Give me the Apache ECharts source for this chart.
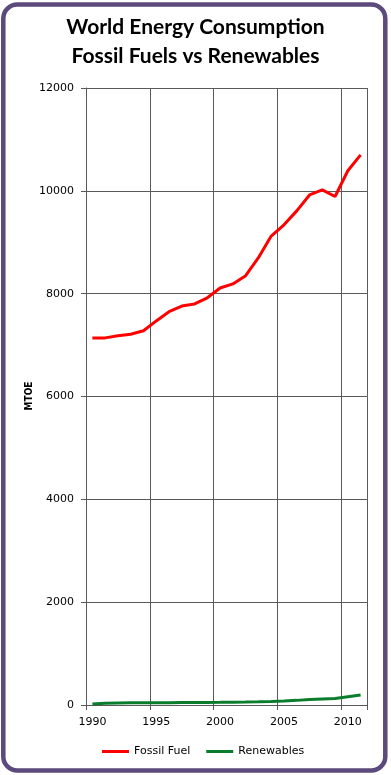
<!DOCTYPE html>
<html>
<head>
<meta charset="utf-8">
<script src="https://cdn.jsdelivr.net/npm/echarts@6/dist/echarts.min.js"></script>
<style>
html,body{margin:0;padding:0;background:#fff;}
#c{width:391px;height:775px;}
</style>
</head>
<body>
<div id="c"></div>
<script>
var years = ['1990','1991','1992','1993','1994','1995','1996','1997','1998','1999','2000','2001','2002','2003','2004','2005','2006','2007','2008','2009','2010','2011'];
var fossilFuel = [7140,7140,7180,7210,7280,7470,7650,7760,7800,7920,8110,8190,8350,8700,9120,9340,9610,9920,10020,9890,10390,10700];
var renewables = [20,35,40,42,44,45,46,47,48,50,52,55,58,62,68,78,90,105,115,125,160,195];
var yTicks = {min:0, max:12000, interval:2000};
var titleText = 'World Energy Consumption\nFossil Fuels vs Renewables';
var yName = 'MTOE';

var chart = echarts.init(document.getElementById('c'), null, {renderer:'canvas'});
var gridColor = '#595959';
chart.setOption({
  animation:false,
  backgroundColor:'#fff',
  title:{
    text:titleText,
    left:'center', top:8,
    textStyle:{fontFamily:'Lato', fontWeight:'bold', fontSize:21, lineHeight:29, color:'#000'}
  },
  graphic:[{
    type:'rect', silent:true, z:100,
    shape:{x:3.3, y:4.5, width:382, height:766, r:14},
    style:{fill:'none', stroke:'#5b4a7b', lineWidth:4.5}
  },{
    type:'text', silent:true, x:29, y:396, rotation:Math.PI/2,
    style:{text:yName, align:'center', verticalAlign:'middle',
      font:'bold 10px "DejaVu Sans Condensed", "DejaVu Sans"', fill:'#000'}
  }],
  legend:{
    bottom:13, left:97,
    icon:'rect', itemWidth:27, itemHeight:3, itemGap:16,
    textStyle:{fontFamily:'DejaVu Sans', fontSize:11, color:'#000'},
    data:['Fossil Fuel','Renewables']
  },
  grid:{left:86, right:24, top:88, bottom:70},
  xAxis:{
    type:'category', data:years, boundaryGap:true,
    axisLine:{lineStyle:{color:gridColor, width:1}},
    axisTick:{show:true, interval:4, length:5, lineStyle:{color:gridColor}},
    axisLabel:{interval:4, margin:12, fontFamily:'DejaVu Sans', fontSize:11, color:'#000'},
    splitLine:{show:true, interval:4, lineStyle:{color:gridColor, width:1}}
  },
  yAxis:{
    type:'value', min:yTicks.min, max:yTicks.max, interval:yTicks.interval,
    axisLine:{show:true, lineStyle:{color:gridColor, width:1}},
    axisTick:{show:true, length:5, lineStyle:{color:gridColor}},
    axisLabel:{margin:12, fontFamily:'DejaVu Sans', fontSize:11, color:'#000',
      formatter:function(v){return String(v);}},
    splitLine:{show:true, lineStyle:{color:gridColor, width:1}}
  },
  series:[
    {name:'Fossil Fuel', type:'line', data:fossilFuel, symbol:'none', smooth:false,
     lineStyle:{color:'#ff0000', width:3}, itemStyle:{color:'#ff0000'}},
    {name:'Renewables', type:'line', data:renewables, symbol:'none', smooth:false,
     lineStyle:{color:'#0a7d2c', width:3}, itemStyle:{color:'#0a7d2c'}}
  ]
});
</script>
</body>
</html>
